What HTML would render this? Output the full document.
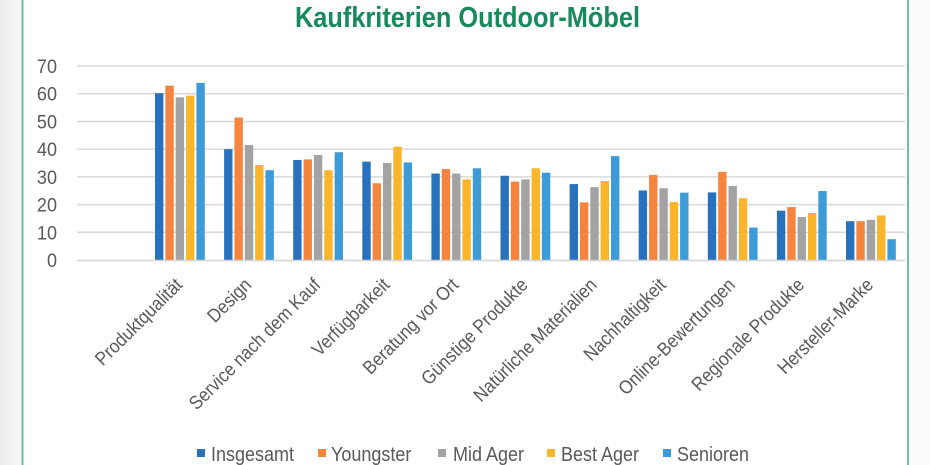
<!DOCTYPE html>
<html><head><meta charset="utf-8"><style>
html,body{margin:0;padding:0;background:#fff;}
svg{display:block;}
text{font-family:"Liberation Sans",Arial,sans-serif;}
</style></head><body>
<svg width="930" height="465" viewBox="0 0 930 465" xmlns="http://www.w3.org/2000/svg">
<defs>
<linearGradient id="lg" x1="0" x2="1" y1="0" y2="0">
<stop offset="0" stop-color="#ececec"/><stop offset="1" stop-color="#f8f8f8"/>
</linearGradient>
</defs>
<rect x="0" y="0" width="930" height="465" fill="#ffffff"/>
<rect x="0" y="0" width="22" height="465" fill="url(#lg)"/>
<rect x="909" y="0" width="21" height="465" fill="#fbfbfb"/>
<line x1="22.5" y1="0" x2="22.5" y2="465" stroke="#6cc3a3" stroke-width="2"/>
<line x1="908" y1="0" x2="908" y2="465" stroke="#6cc3a3" stroke-width="2"/>

<text x="467.5" y="27" text-anchor="middle" font-size="29" font-weight="bold" fill="#17895b" textLength="345" lengthAdjust="spacingAndGlyphs">Kaufkriterien Outdoor-Möbel</text>

<g stroke="#d9d9d9" stroke-width="1.5">
<line x1="77" y1="66.03" x2="905" y2="66.03"/>
<line x1="77" y1="93.74" x2="905" y2="93.74"/>
<line x1="77" y1="121.45" x2="905" y2="121.45"/>
<line x1="77" y1="149.16" x2="905" y2="149.16"/>
<line x1="77" y1="176.87" x2="905" y2="176.87"/>
<line x1="77" y1="204.58" x2="905" y2="204.58"/>
<line x1="77" y1="232.29" x2="905" y2="232.29"/>
</g>

<g font-size="19" fill="#595959" text-anchor="end">
<text transform="translate(57,73) scale(0.95,1)">70</text>
<text transform="translate(57,100.7) scale(0.95,1)">60</text>
<text transform="translate(57,128.4) scale(0.95,1)">50</text>
<text transform="translate(57,156.1) scale(0.95,1)">40</text>
<text transform="translate(57,183.8) scale(0.95,1)">30</text>
<text transform="translate(57,211.5) scale(0.95,1)">20</text>
<text transform="translate(57,239.3) scale(0.95,1)">10</text>
<text transform="translate(57,267) scale(0.95,1)">0</text>
</g>

<g id="bars">
<g transform="translate(155,260) scale(1,-2.771)">
<rect x="0" y="0" width="8.4" height="60.2" fill="#2872bd"/>
<rect x="10.35" y="0" width="8.4" height="62.9" fill="#f5843e"/>
<rect x="20.7" y="0" width="8.4" height="58.7" fill="#a3a3a3"/>
<rect x="31.05" y="0" width="8.4" height="59.3" fill="#fbb52a"/>
<rect x="41.4" y="0" width="8.4" height="63.9" fill="#3d9bd8"/>
</g>
<g transform="translate(224.1,260) scale(1,-2.771)">
<rect x="0" y="0" width="8.4" height="40" fill="#2872bd"/>
<rect x="10.35" y="0" width="8.4" height="51.4" fill="#f5843e"/>
<rect x="20.7" y="0" width="8.4" height="41.5" fill="#a3a3a3"/>
<rect x="31.05" y="0" width="8.4" height="34.3" fill="#fbb52a"/>
<rect x="41.4" y="0" width="8.4" height="32.4" fill="#3d9bd8"/>
</g>
<g transform="translate(293.2,260) scale(1,-2.771)">
<rect x="0" y="0" width="8.4" height="36.1" fill="#2872bd"/>
<rect x="10.35" y="0" width="8.4" height="36.3" fill="#f5843e"/>
<rect x="20.7" y="0" width="8.4" height="37.9" fill="#a3a3a3"/>
<rect x="31.05" y="0" width="8.4" height="32.4" fill="#fbb52a"/>
<rect x="41.4" y="0" width="8.4" height="38.9" fill="#3d9bd8"/>
</g>
<g transform="translate(362.3,260) scale(1,-2.771)">
<rect x="0" y="0" width="8.4" height="35.5" fill="#2872bd"/>
<rect x="10.35" y="0" width="8.4" height="27.7" fill="#f5843e"/>
<rect x="20.7" y="0" width="8.4" height="35" fill="#a3a3a3"/>
<rect x="31.05" y="0" width="8.4" height="40.9" fill="#fbb52a"/>
<rect x="41.4" y="0" width="8.4" height="35.2" fill="#3d9bd8"/>
</g>
<g transform="translate(431.4,260) scale(1,-2.771)">
<rect x="0" y="0" width="8.4" height="31.2" fill="#2872bd"/>
<rect x="10.35" y="0" width="8.4" height="32.8" fill="#f5843e"/>
<rect x="20.7" y="0" width="8.4" height="31.2" fill="#a3a3a3"/>
<rect x="31.05" y="0" width="8.4" height="29.1" fill="#fbb52a"/>
<rect x="41.4" y="0" width="8.4" height="33.1" fill="#3d9bd8"/>
</g>
<g transform="translate(500.5,260) scale(1,-2.771)">
<rect x="0" y="0" width="8.4" height="30.4" fill="#2872bd"/>
<rect x="10.35" y="0" width="8.4" height="28.3" fill="#f5843e"/>
<rect x="20.7" y="0" width="8.4" height="29.1" fill="#a3a3a3"/>
<rect x="31.05" y="0" width="8.4" height="33.1" fill="#fbb52a"/>
<rect x="41.4" y="0" width="8.4" height="31.5" fill="#3d9bd8"/>
</g>
<g transform="translate(569.6,260) scale(1,-2.771)">
<rect x="0" y="0" width="8.4" height="27.4" fill="#2872bd"/>
<rect x="10.35" y="0" width="8.4" height="20.8" fill="#f5843e"/>
<rect x="20.7" y="0" width="8.4" height="26.3" fill="#a3a3a3"/>
<rect x="31.05" y="0" width="8.4" height="28.5" fill="#fbb52a"/>
<rect x="41.4" y="0" width="8.4" height="37.5" fill="#3d9bd8"/>
</g>
<g transform="translate(638.7,260) scale(1,-2.771)">
<rect x="0" y="0" width="8.4" height="25.1" fill="#2872bd"/>
<rect x="10.35" y="0" width="8.4" height="30.7" fill="#f5843e"/>
<rect x="20.7" y="0" width="8.4" height="25.9" fill="#a3a3a3"/>
<rect x="31.05" y="0" width="8.4" height="20.9" fill="#fbb52a"/>
<rect x="41.4" y="0" width="8.4" height="24.3" fill="#3d9bd8"/>
</g>
<g transform="translate(707.8,260) scale(1,-2.771)">
<rect x="0" y="0" width="8.4" height="24.4" fill="#2872bd"/>
<rect x="10.35" y="0" width="8.4" height="31.8" fill="#f5843e"/>
<rect x="20.7" y="0" width="8.4" height="26.7" fill="#a3a3a3"/>
<rect x="31.05" y="0" width="8.4" height="22.3" fill="#fbb52a"/>
<rect x="41.4" y="0" width="8.4" height="11.7" fill="#3d9bd8"/>
</g>
<g transform="translate(776.9,260) scale(1,-2.771)">
<rect x="0" y="0" width="8.4" height="17.8" fill="#2872bd"/>
<rect x="10.35" y="0" width="8.4" height="19.1" fill="#f5843e"/>
<rect x="20.7" y="0" width="8.4" height="15.5" fill="#a3a3a3"/>
<rect x="31.05" y="0" width="8.4" height="17" fill="#fbb52a"/>
<rect x="41.4" y="0" width="8.4" height="24.9" fill="#3d9bd8"/>
</g>
<g transform="translate(846,260) scale(1,-2.771)">
<rect x="0" y="0" width="8.4" height="14" fill="#2872bd"/>
<rect x="10.35" y="0" width="8.4" height="14" fill="#f5843e"/>
<rect x="20.7" y="0" width="8.4" height="14.5" fill="#a3a3a3"/>
<rect x="31.05" y="0" width="8.4" height="16.1" fill="#fbb52a"/>
<rect x="41.4" y="0" width="8.4" height="7.5" fill="#3d9bd8"/>
</g>
</g>

<line x1="77" y1="260.5" x2="905" y2="260.5" stroke="#d4d4d4" stroke-width="1.5"/>

<g font-size="19" fill="#595959" text-anchor="end">
<text transform="translate(183.4,286) rotate(-45) scale(0.9,1)">Produktqualität</text>
<text transform="translate(252.5,286) rotate(-45) scale(0.9,1)">Design</text>
<text transform="translate(321.6,286) rotate(-45) scale(0.9,1)">Service nach dem Kauf</text>
<text transform="translate(390.7,286) rotate(-45) scale(0.9,1)">Verfügbarkeit</text>
<text transform="translate(459.8,286) rotate(-45) scale(0.9,1)">Beratung vor Ort</text>
<text transform="translate(528.9,286) rotate(-45) scale(0.9,1)">Günstige Produkte</text>
<text transform="translate(598,286) rotate(-45) scale(0.9,1)">Natürliche Materialien</text>
<text transform="translate(667.1,286) rotate(-45) scale(0.9,1)">Nachhaltigkeit</text>
<text transform="translate(736.2,286) rotate(-45) scale(0.9,1)">Online-Bewertungen</text>
<text transform="translate(805.3,286) rotate(-45) scale(0.9,1)">Regionale Produkte</text>
<text transform="translate(874.4,286) rotate(-45) scale(0.9,1)">Hersteller-Marke</text>
</g>

<g font-size="20" fill="#595959">
<rect x="197" y="449" width="8" height="8" fill="#2872bd"/>
<text transform="translate(211,461) scale(0.9,1)">Insgesamt</text>
<rect x="318" y="449" width="8" height="8" fill="#f5843e"/>
<text transform="translate(331,461) scale(0.9,1)">Youngster</text>
<rect x="438" y="449" width="8" height="8" fill="#a3a3a3"/>
<text transform="translate(453,461) scale(0.9,1)">Mid Ager</text>
<rect x="547" y="449" width="8" height="8" fill="#fbb52a"/>
<text transform="translate(561,461) scale(0.9,1)">Best Ager</text>
<rect x="663" y="449" width="8" height="8" fill="#3d9bd8"/>
<text transform="translate(677,461) scale(0.9,1)">Senioren</text>
</g>
</svg>
</body></html>
